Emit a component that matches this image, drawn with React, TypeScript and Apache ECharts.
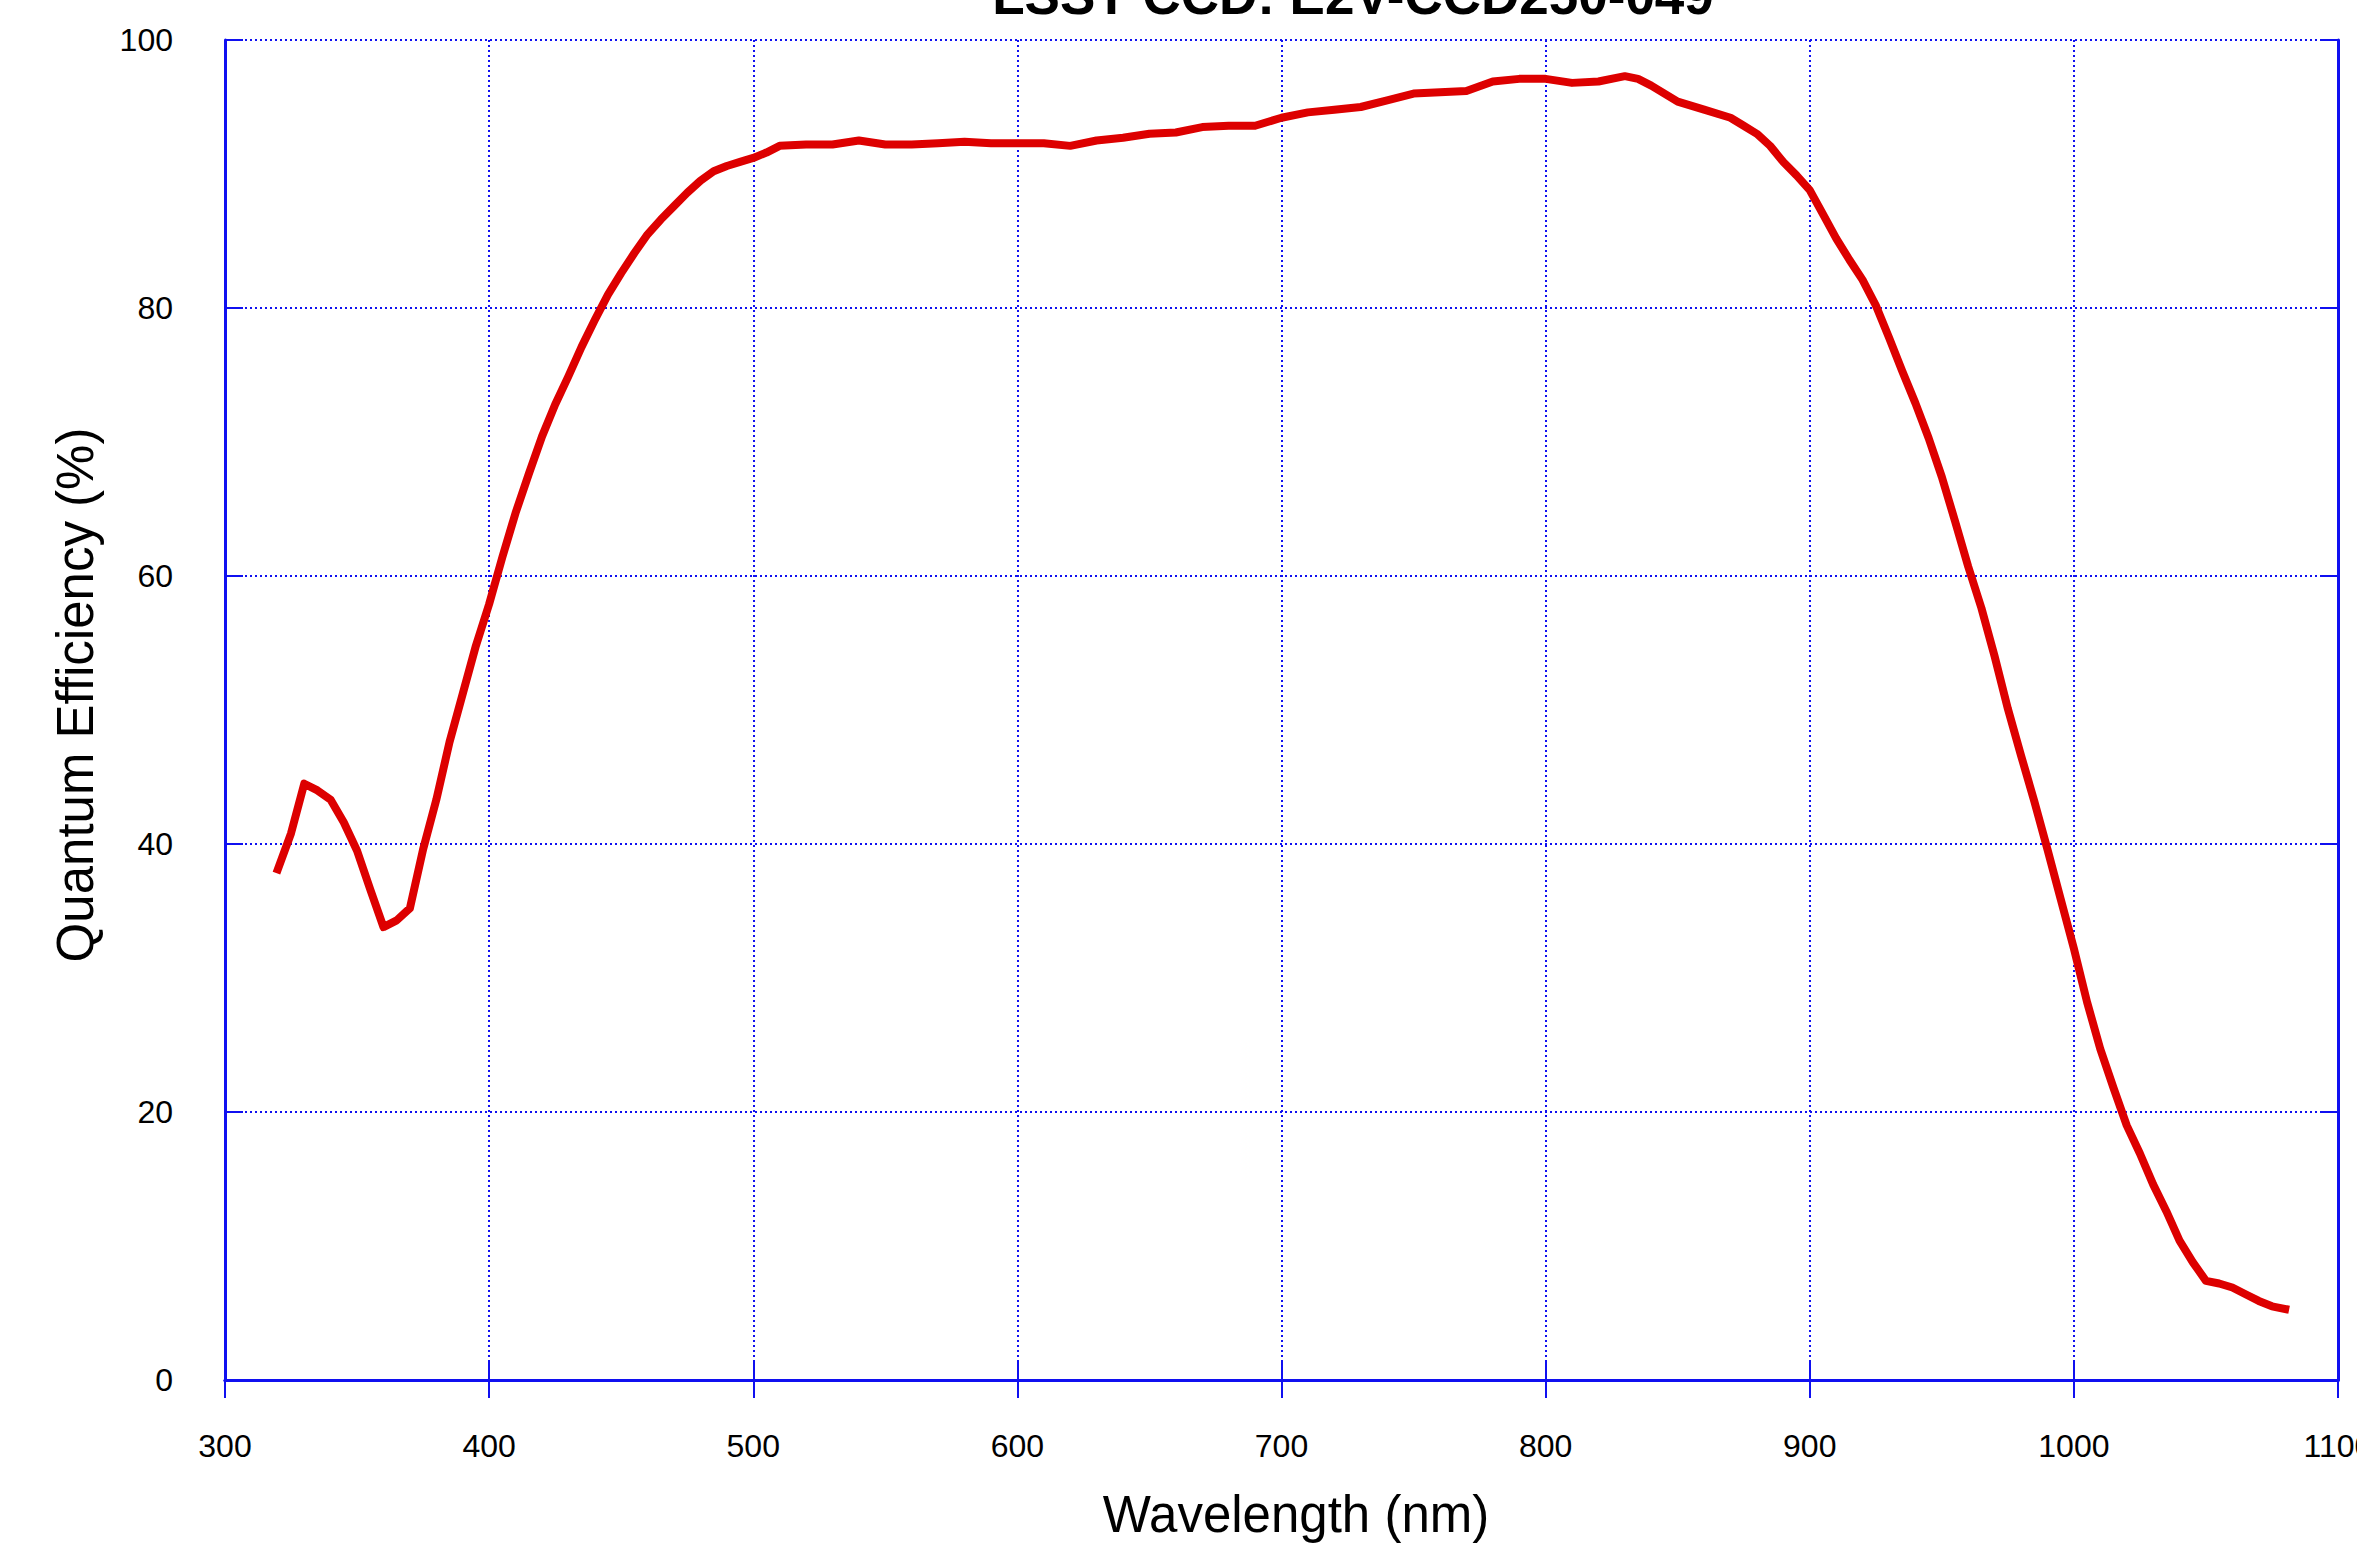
import React, { useEffect, useRef } from "react";
import * as echarts from "echarts";

const titleText = "LSST CCD: E2V-CCD250-049";
const xAxisName = "Wavelength (nm)";
const yAxisName = "Quantum Efficiency (%)";

const xTicks = [300, 400, 500, 600, 700, 800, 900, 1000, 1100];
const yTicks = [0, 20, 40, 60, 80, 100];

const wavelengths = [
  320, 325, 330, 335, 340, 345, 350, 355, 360, 365, 370, 375, 380, 385, 390, 395,
  400, 405, 410, 415, 420, 425, 430, 435, 440, 445, 450, 455, 460, 465, 470, 475,
  480, 485, 490, 495, 500, 505, 510, 520, 530, 540, 550, 560, 570, 580, 590, 600,
  610, 620, 630, 640, 650, 660, 670, 680, 690, 700, 710, 720, 730, 740, 750, 760,
  770, 780, 790, 800, 810, 820, 830, 835, 840, 845, 850, 860, 870, 875, 880, 885,
  890, 895, 900, 905, 910, 915, 920, 925, 930, 935, 940, 945, 950, 955, 960, 965,
  970, 975, 980, 985, 990, 995, 1000, 1005, 1010, 1015, 1020, 1025, 1030, 1035,
  1040, 1045, 1050, 1055, 1060, 1065, 1070, 1075, 1080,
];

const qe = [
  38.1, 40.8, 44.5, 44.0, 43.3, 41.6, 39.5, 36.6, 33.8, 34.3, 35.2, 39.6, 43.3, 47.6, 51.2, 54.8,
  57.9, 61.4, 64.7, 67.6, 70.4, 72.8, 74.9, 77.1, 79.1, 81.0, 82.6, 84.1, 85.5, 86.6, 87.6, 88.6,
  89.5, 90.2, 90.6, 90.9, 91.2, 91.6, 92.1, 92.2, 92.2, 92.5, 92.2, 92.2, 92.3, 92.4, 92.3, 92.3,
  92.3, 92.1, 92.5, 92.7, 93.0, 93.1, 93.5, 93.6, 93.6, 94.2, 94.6, 94.8, 95.0, 95.5, 96.0, 96.1,
  96.2, 96.9, 97.1, 97.1, 96.8, 96.9, 97.3, 97.1, 96.6, 96.0, 95.4, 94.8, 94.2, 93.6, 93.0, 92.1,
  90.9, 89.9, 88.8, 87.0, 85.2, 83.6, 82.1, 80.2, 77.8, 75.3, 72.9, 70.3, 67.4, 64.1, 60.7, 57.6,
  54.0, 50.1, 46.6, 43.2, 39.6, 35.9, 32.2, 28.2, 24.7, 21.8, 19.0, 16.9, 14.6, 12.6,
  10.4, 8.8, 7.4, 7.2, 6.9, 6.4, 5.9, 5.5, 5.3,
];

const FONT = '"Liberation Sans", Arial, Helvetica, sans-serif';
const BLUE = "#1010f0";

export default function App() {
  const ref = useRef<HTMLDivElement>(null);

  useEffect(() => {
    if (!ref.current) return;
    const chart = echarts.init(ref.current, undefined, { renderer: "svg" });
    const data = wavelengths.map((w, i) => [w, qe[i]]);

    const axisLine = { show: true, lineStyle: { color: BLUE, width: 3 } };
    const axisTick = { show: true, inside: true, length: 18, lineStyle: { color: BLUE, width: 2 } };
    const fmt = (v: number) => String(v);

    chart.setOption({
      animation: false,
      backgroundColor: "#ffffff",
      grid: {
        left: 225,
        top: 40,
        right: 19,
        bottom: 166,
        containLabel: false,
        outerBoundsMode: "none",
      },
      xAxis: [
        {
          type: "value",
          min: xTicks[0],
          max: xTicks[xTicks.length - 1],
          interval: 100,
          axisLine,
          axisTick,
          axisLabel: {
            show: true,
            margin: 50,
            color: "#000",
            fontFamily: FONT,
            fontSize: 32,
            formatter: fmt,
            showMaxLabel: true,
            showMinLabel: true,
            hideOverlap: false,
          },
          splitLine: { show: true, lineStyle: { color: BLUE, width: 2, type: [2, 3] } },
        },
        {
          type: "value",
          position: "top",
          min: xTicks[0],
          max: xTicks[xTicks.length - 1],
          interval: 100,
          axisLine,
          axisTick,
          axisLabel: { show: false },
          splitLine: { show: false },
        },
      ],
      yAxis: [
        {
          type: "value",
          min: yTicks[0],
          max: yTicks[yTicks.length - 1],
          interval: 20,
          axisLine,
          axisTick,
          axisLabel: {
            show: true,
            margin: 52,
            color: "#000",
            fontFamily: FONT,
            fontSize: 32,
            formatter: fmt,
          },
          splitLine: { show: true, lineStyle: { color: BLUE, width: 2, type: [2, 3] } },
        },
        {
          type: "value",
          position: "right",
          min: yTicks[0],
          max: yTicks[yTicks.length - 1],
          interval: 20,
          axisLine,
          axisTick,
          axisLabel: { show: false },
          splitLine: { show: false },
        },
      ],
      series: [
        {
          type: "line",
          xAxisIndex: 0,
          yAxisIndex: 0,
          data,
          showSymbol: false,
          symbol: "none",
          smooth: false,
          lineStyle: { color: "#dd0000", width: 8, cap: "square", join: "round" },
          z: 5,
        },
      ],
      graphic: [
        {
          type: "text",
          x: 1353,
          y: -5,
          style: {
            text: titleText,
            font: `bold 53px ${FONT}`,
            fill: "#000",
            textAlign: "center",
            textVerticalAlign: "middle",
          },
        },
        {
          type: "text",
          x: 1296,
          y: 1514,
          style: {
            text: xAxisName,
            font: `51px ${FONT}`,
            fill: "#000",
            textAlign: "center",
            textVerticalAlign: "middle",
          },
        },
        {
          type: "text",
          x: 75,
          y: 695,
          rotation: Math.PI / 2,
          style: {
            text: yAxisName,
            font: `51px ${FONT}`,
            fill: "#000",
            textAlign: "center",
            textVerticalAlign: "middle",
          },
        },
      ],
    });

    return () => {
      chart.dispose();
    };
  }, []);

  return (
    <div
      ref={ref}
      style={{ position: "fixed", left: 0, top: 0, width: 2357, height: 1546, background: "#fff" }}
    />
  );
}
